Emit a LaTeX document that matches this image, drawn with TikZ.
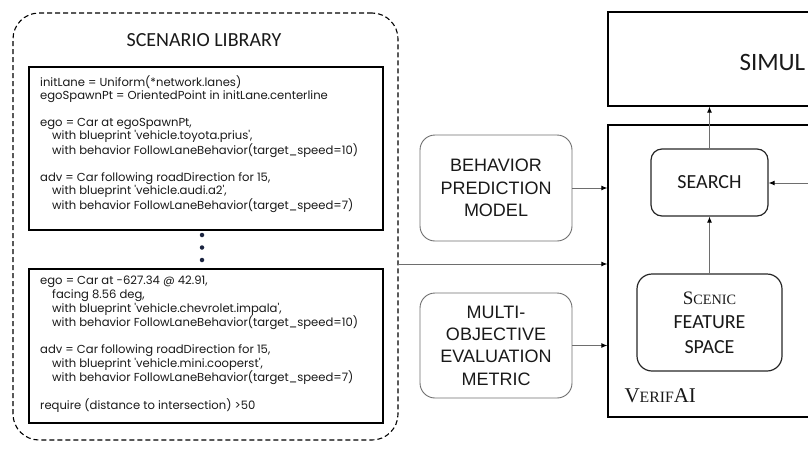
\documentclass[tikz,border=0pt]{standalone}
\usepackage{fontspec}
\newfontfamily\codefont{Poppins}
\newfontfamily\calfont{Carlito}
\newfontfamily\arialfont{Liberation Sans}
\newfontfamily\timesfont{Liberation Serif}
\usetikzlibrary{arrows.meta}
\definecolor{dotblue}{HTML}{1B2440}
\definecolor{linegray}{HTML}{6E6E6E}
% fake small caps in a Times-like face
\newcommand{\bigsc}[3]{{\fontsize{#1}{#1}\selectfont#2}{\fontsize{0.75\dimexpr#1pt\relax}{#1}\selectfont#3}}
\tikzset{
  libbox/.style={draw, dashed, dash pattern=on 5pt off 3pt, line width=1.1pt, rounded corners=26pt},
  codebox/.style={draw, line width=1.3pt, minimum width=354pt, inner sep=0pt},
  codetext/.style={anchor=north west, inner sep=0pt, align=left, text=black!90},
  inbox/.style={draw=linegray, line width=0.9pt, rounded corners=15pt, minimum width=152pt,
    align=center, text=black!90, font=\arialfont\fontsize{18}{22.4}\selectfont},
  vbox/.style={draw=black!85, line width=1.2pt, rounded corners=11pt, align=center,
    text=black!90, font=\calfont\fontsize{20}{24.5}\selectfont},
  sysbox/.style={draw, line width=1.3pt, minimum width=222pt, inner sep=0pt},
  arr/.style={draw=linegray, line width=0.9pt, -{Latex[length=6pt,width=5pt,black]}},
  libdot/.style={circle, fill=dotblue, inner sep=0pt, minimum size=4.5pt},
}
\begin{document}
\begin{tikzpicture}[x=1pt, y=-1pt]
  \useasboundingbox (0,0) rectangle (808,455);

  % scenario library
  \node [libbox, minimum width=385pt, minimum height=427pt] (lib) at (205.5,226.5) {};
  \node [font=\calfont\fontsize{20}{24}\selectfont, text=black!90] (libtitle) at (204,40) {SCENARIO LIBRARY};
  \node [codebox, minimum height=163pt] (code1) at (206,148.5) {};
  \node [codebox, minimum height=154pt] (code2) at (206,346) {};
  \node [codetext, font=\codefont\fontsize{11.6}{13.3}\selectfont] (code1txt) at (40,75.5) {%
    initLane = Uniform(*network.lanes)\\
    egoSpawnPt = OrientedPoint in initLane.centerline\\[13.3pt]
    ego = Car at egoSpawnPt,\\
    \hspace*{12pt}with blueprint 'vehicle.toyota.prius',\\
    \hspace*{12pt}with behavior FollowLaneBehavior(target\_speed=10)\\[13.3pt]
    adv = Car following roadDirection for 15,\\
    \hspace*{12pt}with blueprint 'vehicle.audi.a2',\\
    \hspace*{12pt}with behavior FollowLaneBehavior(target\_speed=7)};
  \node [codetext, font=\codefont\fontsize{11.6}{14}\selectfont] (code2txt) at (40,275.5) {%
    ego = Car at -627.34 @ 42.91,\\
    \hspace*{12pt}facing 8.56 deg,\\
    \hspace*{12pt}with blueprint 'vehicle.chevrolet.impala',\\
    \hspace*{12pt}with behavior FollowLaneBehavior(target\_speed=10)\\[13.5pt]
    adv = Car following roadDirection for 15,\\
    \hspace*{12pt}with blueprint 'vehicle.mini.cooperst',\\
    \hspace*{12pt}with behavior FollowLaneBehavior(target\_speed=7)\\[13.5pt]
    require (distance to intersection) >50};
  \foreach \y [count=\i] in {235,247.5,260}
    \node [libdot] (dot\i) at (202,\y) {};

  % inputs
  \node [inbox, minimum height=106pt] (bpm) at (496,188) {BEHAVIOR\\PREDICTION\\MODEL};
  \node [inbox, minimum height=105pt] (moem) at (496,345.5) {MULTI-\\OBJECTIVE\\EVALUATION\\METRIC};

  % simulator and verifai
  \node [sysbox, minimum height=94pt] (sim) at (719,59) {};
  \node [anchor=west, font=\calfont\fontsize{25}{30}\selectfont, text=black!90] (simlabel) at (736,62) {SIMUL};
  \node [sysbox, minimum height=292pt] (verifai) at (719,271) {};
  \node [anchor=west, font=\timesfont, text=black!90] (verifailabel) at (621,396)
    {\bigsc{21}{V}{ERIF}{\fontsize{21}{21}\selectfont AI}};
  \node [vbox, minimum width=117pt, minimum height=67pt] (search) at (709.5,182.5) {SEARCH};
  \node [vbox, minimum width=145pt, minimum height=97pt, rounded corners=15pt] (sfs) at (709.5,322.5)
    {{\timesfont\bigsc{19}{S}{CENIC}}\\FEATURE\\SPACE};
  \coordinate (feedback) at (812,183);
  \coordinate (libout) at (398,264);

  % connectors
  \draw [arr] (search.north) -- (search.north |- sim.south);
  \draw [arr] (sfs.north) -- (search.south);
  \draw [arr] (feedback) -- (search.east |- feedback);
  \draw [arr] (bpm.east) -- (bpm.east -| verifai.west);
  \draw [arr] (moem.east) -- (moem.east -| verifai.west);
  \draw [arr] (libout) -- (libout -| verifai.west);
\end{tikzpicture}
\end{document}
